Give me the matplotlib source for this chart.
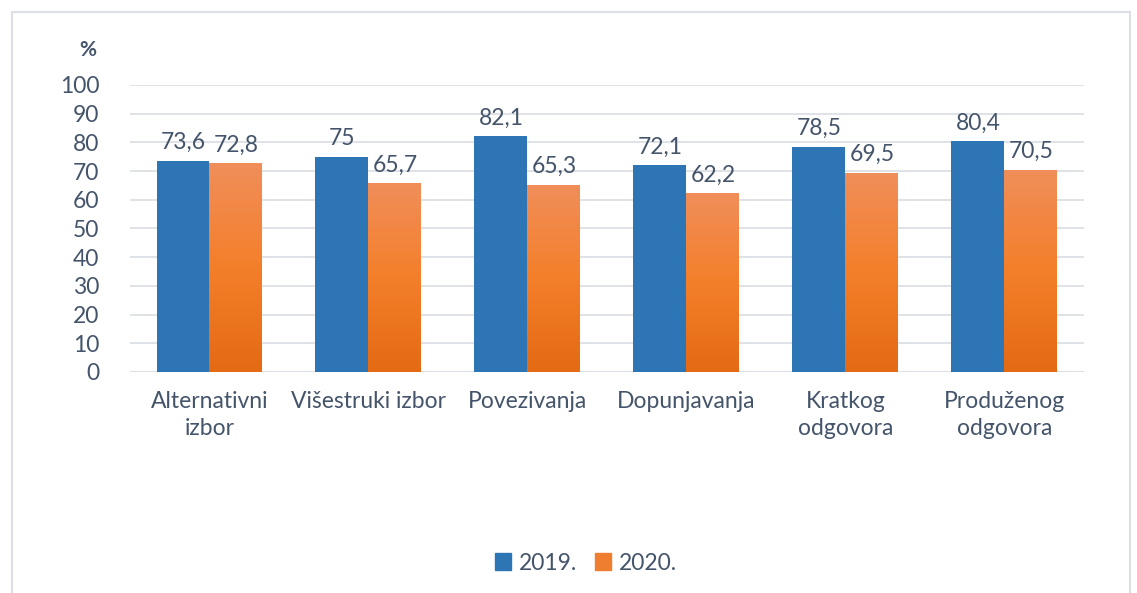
import numpy as np
import matplotlib.pyplot as plt
from matplotlib.patches import Rectangle
from matplotlib.colors import LinearSegmentedColormap

# podaci
categories = ["Alternativni\nizbor", "Višestruki izbor", "Povezivanja",
              "Dopunjavanja", "Kratkog\nodgovora", "Produženog\nodgovora"]
y2019 = [73.6, 75, 82.1, 72.1, 78.5, 80.4]
y2020 = [72.8, 65.7, 65.3, 62.2, 69.5, 70.5]
years = ["2019.", "2020."]

txt = "#44546A"
blue = "#2E75B6"
grid = "#DCE0E6"
orange_cmap = LinearSegmentedColormap.from_list("or", ["#E46A14", "#F47F2A", "#F08E5A"])

plt.rcParams['font.family'] = ['Lato', 'DejaVu Sans']

fig = plt.figure(figsize=(11.37, 5.93), dpi=100)
ax = fig.add_axes([130 / 1137, 1 - 372 / 593, 954 / 1137, 287 / 593])

x = np.arange(len(categories))
w = 1 / 3
b1 = ax.bar(x - w / 2, y2019, w, color=blue, zorder=2)
b2 = ax.bar(x + w / 2, y2020, w, color="none", zorder=2)

# gradijent za narandzaste stupce
grad = np.linspace(0, 1, 256).reshape(-1, 1)
for r in b2:
    x0 = r.get_x()
    im = ax.imshow(grad, cmap=orange_cmap, aspect="auto", origin="lower",
                   extent=[x0, x0 + r.get_width(), 0, r.get_height()], zorder=2)
    im.set_clip_path(r)

def fmt(v):
    return ("%g" % v).replace(".", ",")

for xi, v in zip(x, y2019):
    ax.text(xi - w / 2, v + 2.6, fmt(v), ha="center", va="bottom", fontsize=16.5, color=txt)
for xi, v in zip(x, y2020):
    ax.text(xi + w / 2, v + 2.6, fmt(v), ha="center", va="bottom", fontsize=16.5, color=txt)

ax.set_xlim(-0.5, len(categories) - 0.5)
ax.set_ylim(0, 100)
ax.set_yticks(range(0, 101, 10))
ax.set_xticks(x)
ax.set_xticklabels(categories, fontsize=16.5, color=txt, linespacing=1.35)
ax.tick_params(axis="y", labelsize=16.5, colors=txt, length=0, pad=22)
ax.tick_params(axis="x", length=0, pad=14)
ax.grid(axis="y", color=grid, linewidth=1.3, zorder=0)
for s in ax.spines.values():
    s.set_visible(False)
ax.axhline(0, color=grid, linewidth=1.5, zorder=1)

fig.text(88 / 1137, 1 - 50 / 593, "%", fontsize=15, fontweight="bold", color=txt,
         ha="center", va="center")

# legenda
h1 = Rectangle((0, 0), 1, 1, color=blue)
h2 = Rectangle((0, 0), 1, 1, color="#F07E30")
fig.legend([h1, h2], years, loc="center", bbox_to_anchor=(586 / 1137, 1 - 563 / 593),
           ncol=2, frameon=False, fontsize=16.5, handlelength=0.7, handleheight=0.7,
           handletextpad=0.35, columnspacing=0.75, labelcolor=txt)

# okvir grafikona
fig.add_artist(Rectangle((12 / 1137, -0.05), 1118 / 1137, 1.05 - 12 / 593,
                         transform=fig.transFigure, fill=False, edgecolor=grid, linewidth=1.5))

fig.savefig("out.png", dpi=100, facecolor="white")
